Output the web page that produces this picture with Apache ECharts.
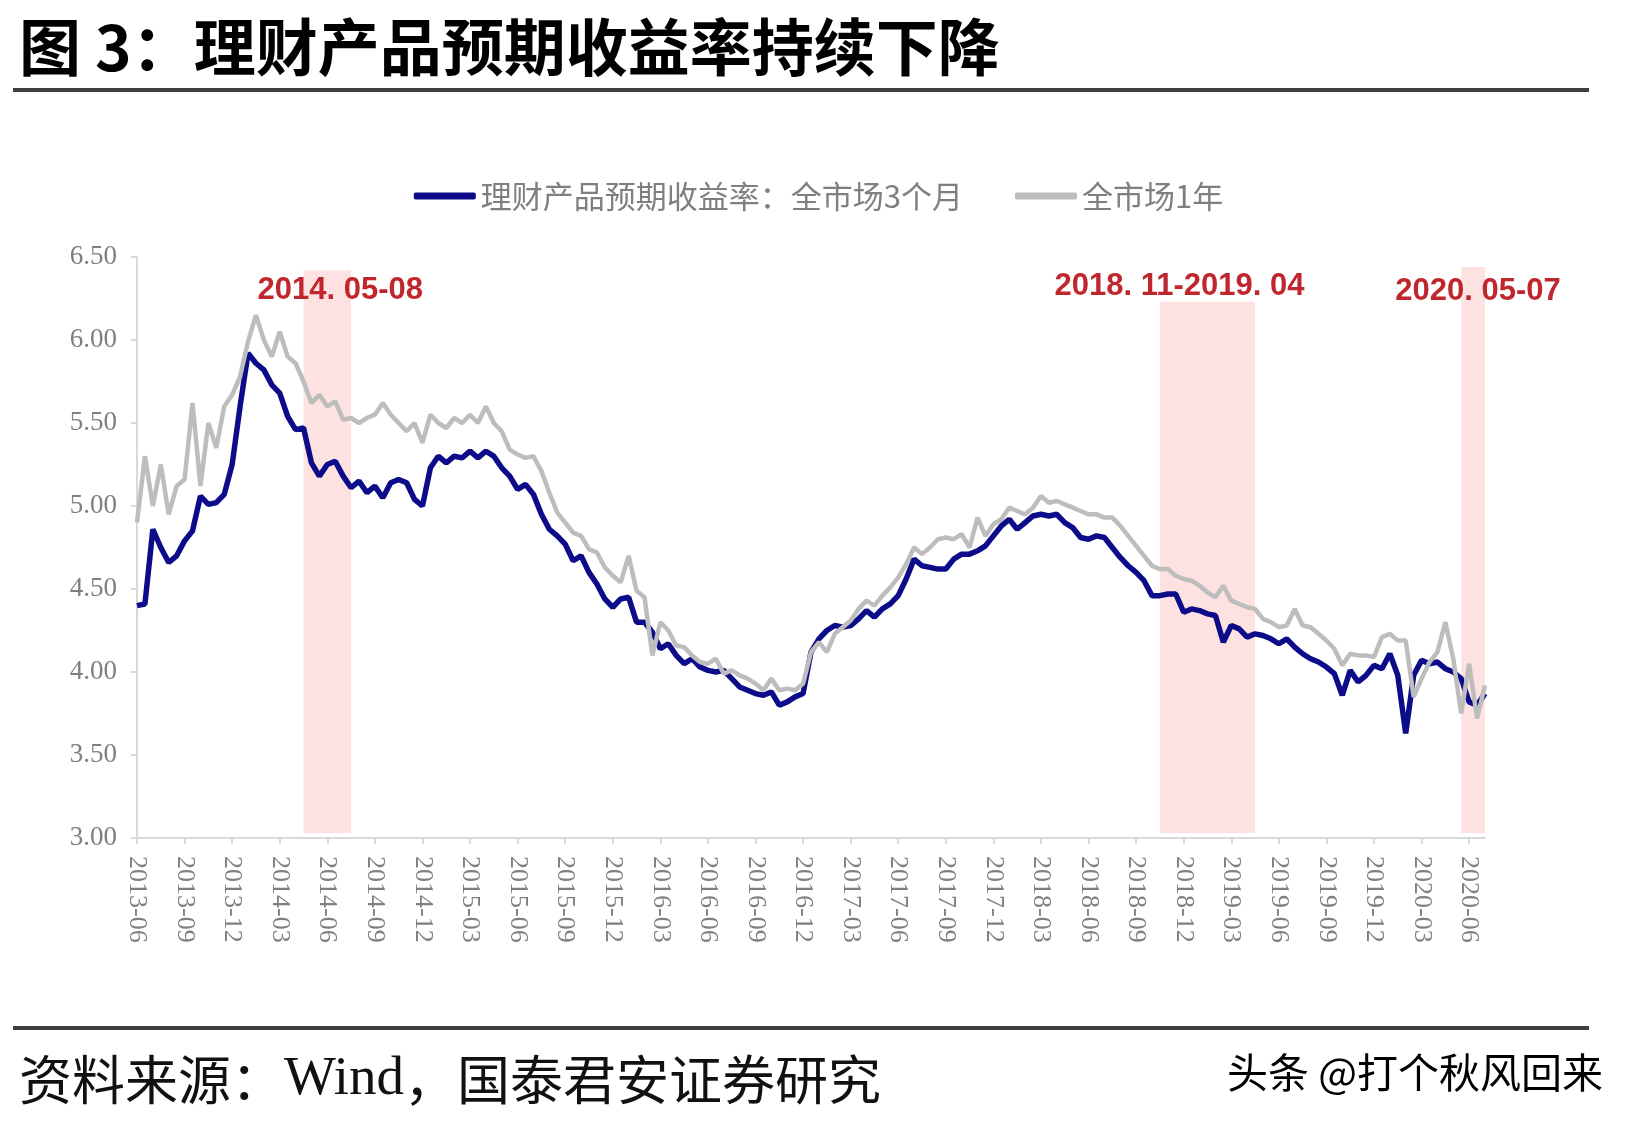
<!DOCTYPE html>
<html>
<head>
<meta charset="utf-8">
<script src="https://cdn.jsdelivr.net/npm/echarts/dist/echarts.min.js"></script>
<style>
  html, body { margin: 0; padding: 0; background: #fff; }
  #chart { width: 1637px; height: 1122px; }
</style>
</head>
<body>
<div id="chart"></div>
<script>
// half-month steps, 2013-06 .. 2020-07
var categories = [];
for (var i = 0; i <= 170; i++) {
  var off = Math.floor(i / 2);
  var y = 2013 + Math.floor((5 + off) / 12);
  var mo = (5 + off) % 12 + 1;
  categories.push(y + '-' + (mo < 10 ? '0' + mo : mo) + (i % 2 ? '-16' : '-01'));
}

var blue3m = [
  4.40, 4.41, 4.86, 4.75, 4.66, 4.70, 4.79, 4.85, 5.06, 5.01,
  5.02, 5.07, 5.25, 5.60, 5.92, 5.86, 5.82, 5.73, 5.68, 5.54,
  5.46, 5.47, 5.26, 5.18, 5.25, 5.27, 5.18, 5.11, 5.15, 5.08,
  5.12, 5.05, 5.14, 5.16, 5.14, 5.04, 5.00, 5.23, 5.30, 5.26,
  5.30, 5.29, 5.33, 5.29, 5.33, 5.30, 5.23, 5.18, 5.10, 5.13,
  5.07, 4.95, 4.86, 4.82, 4.77, 4.67, 4.70, 4.60, 4.53, 4.44,
  4.39, 4.44, 4.45, 4.30, 4.30, 4.24, 4.14, 4.17, 4.10, 4.05,
  4.08, 4.03, 4.01, 4.00, 4.01, 3.96, 3.91, 3.89, 3.87, 3.86,
  3.88, 3.80, 3.82, 3.85, 3.87, 4.12, 4.20, 4.25, 4.28, 4.27,
  4.28, 4.32, 4.37, 4.33, 4.38, 4.41, 4.46, 4.56, 4.68, 4.64,
  4.63, 4.62, 4.62, 4.68, 4.71, 4.71, 4.73, 4.76, 4.82, 4.88,
  4.92, 4.86, 4.90, 4.94, 4.95, 4.94, 4.95, 4.90, 4.87, 4.81,
  4.80, 4.82, 4.81, 4.75, 4.69, 4.64, 4.60, 4.55, 4.46, 4.46,
  4.47, 4.47, 4.36, 4.38, 4.37, 4.35, 4.34, 4.18, 4.28, 4.26,
  4.21, 4.23, 4.22, 4.20, 4.17, 4.20, 4.15, 4.11, 4.08, 4.06,
  4.03, 3.99, 3.86, 4.01, 3.94, 3.98, 4.04, 4.02, 4.11, 3.98,
  3.63, 3.98, 4.07, 4.05, 4.06, 4.02, 4.00, 3.96, 3.82, 3.80,
  3.87
];

var gray1y = [
  4.90, 5.30, 5.00, 5.25, 4.95, 5.12, 5.16, 5.62, 5.12, 5.50,
  5.35, 5.60, 5.67, 5.78, 5.99, 6.15, 6.00, 5.90, 6.05, 5.90,
  5.86, 5.75, 5.62, 5.67, 5.60, 5.63, 5.52, 5.53, 5.50, 5.53,
  5.55, 5.62, 5.55, 5.50, 5.45, 5.50, 5.38, 5.55, 5.50, 5.47,
  5.53, 5.50, 5.55, 5.50, 5.60, 5.50, 5.45, 5.34, 5.31, 5.29,
  5.30, 5.21, 5.08, 4.96, 4.90, 4.84, 4.82, 4.74, 4.72, 4.63,
  4.58, 4.54, 4.70, 4.49, 4.45, 4.10, 4.30, 4.25, 4.16, 4.15,
  4.10, 4.06, 4.05, 4.08, 3.99, 4.01, 3.98, 3.96, 3.93, 3.89,
  3.96, 3.89, 3.90, 3.89, 3.93, 4.12, 4.18, 4.12, 4.23, 4.27,
  4.31, 4.38, 4.43, 4.40, 4.46, 4.51, 4.57, 4.65, 4.75, 4.71,
  4.75, 4.80, 4.81, 4.80, 4.83, 4.75, 4.93, 4.82, 4.89, 4.92,
  4.99, 4.97, 4.95, 4.99, 5.06, 5.02, 5.03, 5.01, 4.99, 4.97,
  4.95, 4.95, 4.93, 4.93, 4.88, 4.82, 4.76, 4.70, 4.64, 4.62,
  4.62, 4.58, 4.56, 4.55, 4.52, 4.48, 4.45, 4.52, 4.43, 4.41,
  4.39, 4.38, 4.32, 4.30, 4.27, 4.28, 4.38, 4.28, 4.27, 4.23,
  4.19, 4.14, 4.04, 4.11, 4.10, 4.10, 4.09, 4.21, 4.23, 4.19,
  4.19, 3.85, 3.96, 4.06, 4.12, 4.30, 4.08, 3.75, 4.05, 3.72,
  3.92
];

var shadeStart = ['2014-04-16', '2018-10-16', '2020-05-16'];
var shadeEnd = ['2014-07-16', '2019-04-16', '2020-07-01'];
var shadeTop = [6.42, 6.23, 6.44];
var shadeText = ['2014. 05-08', '2018. 11-2019. 04', '2020. 05-07'];
var shadeLabelPos = ['insideTop', 'top', 'insideTop'];
var shadeLabelOffset = [[13, 0], [-28, 5], [5, 4]];

var shadeData = shadeStart.map(function (s, k) {
  return [
    { name: shadeText[k], xAxis: s, yAxis: shadeTop[k],
      label: { position: shadeLabelPos[k], offset: shadeLabelOffset[k] } },
    { xAxis: shadeEnd[k], yAxis: 3.03 }
  ];
});

var chart = echarts.init(document.getElementById('chart'));
chart.setOption({
  backgroundColor: '#fff',
  animation: false,
  title: [
    {
      text: '图 3：理财产品预期收益率持续下降',
      left: 19, top: 16, padding: 0,
      textStyle: { fontFamily: 'Noto Sans CJK SC', fontWeight: 'bold', fontSize: 62, lineHeight: 62, color: '#000' }
    },
    {
      text: '{a|资料来源：}{b|Wind}{a|，国泰君安证券研究}',
      left: 19, top: 1052, padding: 0,
      textStyle: {
        fontWeight: 'normal',
        rich: {
          a: { fontFamily: 'Noto Sans CJK SC', fontWeight: 'normal', fontSize: 53, lineHeight: 56, color: '#111' },
          b: { fontFamily: 'Liberation Serif', fontWeight: 'normal', fontSize: 55, lineHeight: 56, color: '#111' }
        }
      }
    },
    {
      text: '头条 @打个秋风回来',
      right: 34, top: 1050, padding: 0,
      textStyle: { fontFamily: 'Noto Sans CJK SC', fontWeight: 'normal', fontSize: 41, lineHeight: 44, color: '#000' }
    }
  ],
  graphic: [
    { type: 'rect', left: 13, top: 88, shape: { width: 1576, height: 4 }, style: { fill: '#404040' } },
    { type: 'rect', left: 13, top: 1026, shape: { width: 1576, height: 4 }, style: { fill: '#404040' } }
  ],
  legend: {
    top: 180, left: 'center', padding: 0,
    itemWidth: 62, itemHeight: 7, itemGap: 52, icon: 'roundRect',
    textStyle: { fontFamily: 'Noto Sans CJK SC', fontSize: 31, lineHeight: 32, color: '#7f7f7f' },
    data: ['理财产品预期收益率：全市场3个月', '全市场1年']
  },
  grid: { left: 137, right: 152, top: 257, bottom: 284, containLabel: false },
  xAxis: {
    type: 'category',
    data: categories,
    boundaryGap: false,
    axisLine: { lineStyle: { color: '#d9d9d9', width: 2 } },
    axisTick: { show: true, length: 6, interval: function (i) { return i % 6 === 0; }, lineStyle: { color: '#d9d9d9', width: 2 } },
    axisLabel: {
      interval: function (i) { return i % 6 === 0; },
      rotate: -90, margin: 18,
      formatter: function (v) { return v.slice(0, 7); },
      fontFamily: 'Liberation Serif', fontSize: 26, color: '#7f7f7f'
    },
    splitLine: { show: false }
  },
  yAxis: {
    type: 'value', min: 3, max: 6.5, interval: 0.5,
    axisLine: { show: true, lineStyle: { color: '#d9d9d9', width: 2 } },
    axisTick: { show: true, length: 6, lineStyle: { color: '#d9d9d9', width: 2 } },
    axisLabel: {
      margin: 20,
      formatter: function (v) { return v.toFixed(2); },
      fontFamily: 'Liberation Serif', fontSize: 27, color: '#7f7f7f'
    },
    splitLine: { show: false }
  },
  series: [
    {
      name: '理财产品预期收益率：全市场3个月',
      type: 'line', data: blue3m, symbol: 'none',
      lineStyle: { width: 5.5, color: '#0c0c8a' },
      itemStyle: { color: '#0c0c8a' }
    },
    {
      name: '全市场1年',
      type: 'line', data: gray1y, symbol: 'none',
      lineStyle: { width: 4.5, color: '#bdbdbd' },
      itemStyle: { color: '#bdbdbd' },
      markArea: {
        z: 3, silent: true,
        itemStyle: { color: 'rgba(250,140,140,0.25)' },
        label: { show: true, color: '#c0262d', fontFamily: 'Liberation Sans', fontWeight: 'bold', fontSize: 31 },
        data: shadeData
      }
    }
  ]
});
</script>
</body>
</html>
